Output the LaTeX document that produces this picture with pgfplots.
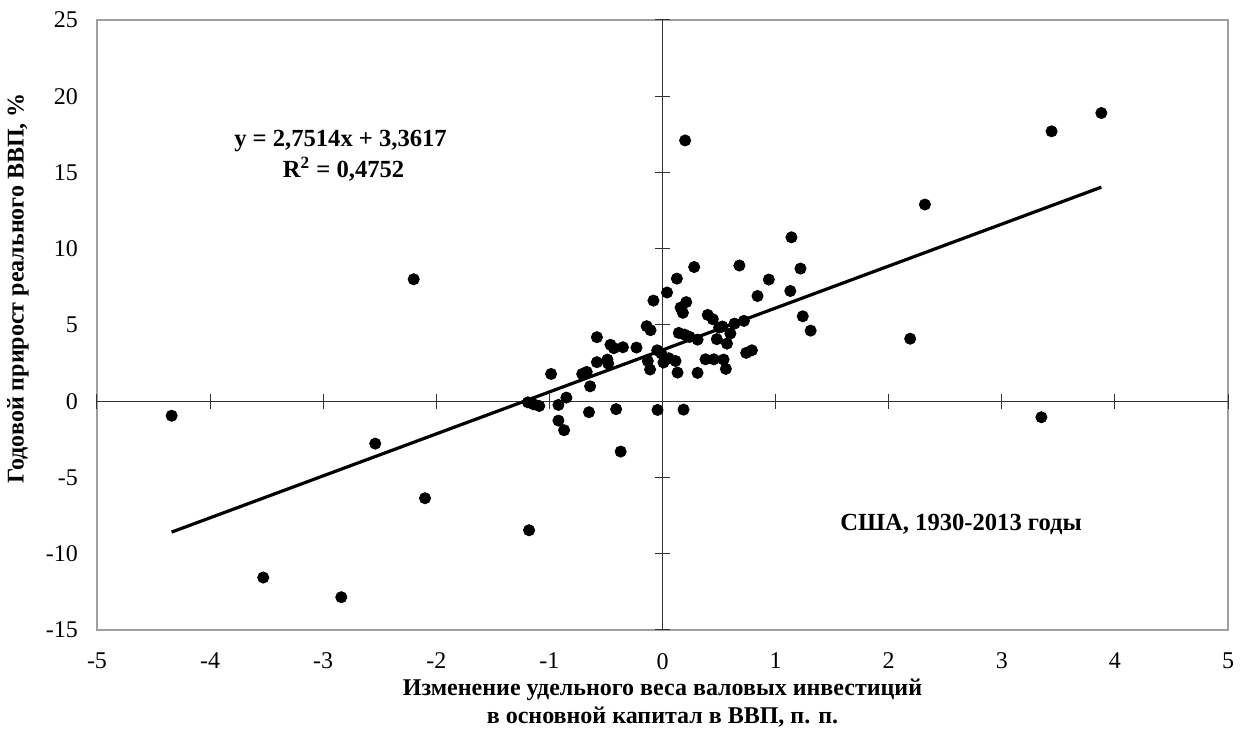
\documentclass[border=0pt]{standalone}
\usepackage{fontspec}
\setmainfont{Liberation Serif}
\usepackage{pgfplots}
\pgfplotsset{compat=1.18}
\begin{document}
\begin{tikzpicture}
\pgfplotsset{
  common/.style={
    scale only axis, width=565.5pt, height=305pt,
    xmin=-5, xmax=5, ymin=-15, ymax=25,
    xtick={-5,-4,...,5}, ytick={-15,-10,...,25},
  }
}
\begin{axis}[common, name=ax,
  axis line style={gray!75, line width=0.6pt},
  major tick length=0pt,
  tick label style={font=\fontsize{12}{14}\selectfont},
  /pgf/number format/assume math mode=true,
  xticklabel style={yshift=-8pt},
  yticklabel style={xshift=-6pt},
  xlabel={Изменение удельного веса валовых инвестиций\\в основной капитал в ВВП, п. п.},
  ylabel={Годовой прирост реального ВВП, \%},
  xlabel style={at={(axis description cs:0.5,-0.12)}, anchor=center, align=center, font=\fontsize{12}{14}\selectfont\bfseries},
  ylabel style={at={(axis description cs:-0.07,0.56)}, anchor=center, font=\fontsize{12}{14}\selectfont\bfseries},
]
\end{axis}
\begin{axis}[common,
  axis lines=middle,
  axis line style={-, black!80, line width=0.5pt},
  tick style={black!80, line width=0.5pt},
  tick align=center, major tick length=7.5pt,
  xticklabels={}, yticklabels={},
  clip=false,
]
\addplot[black, line width=1.6pt, no marks] coordinates {(-4.34,-8.5793) (3.88,14.0371)};
\addplot[only marks, mark=*, mark size=2.8pt, black] coordinates {
(-4.34,-0.95) (-3.53,-11.56) (-2.84,-12.85) (-2.54,-2.78) (-2.20,8.0) (-2.10,-6.36)
(-1.18,-8.46) (-1.19,-0.07) (-1.14,-0.2) (-1.09,-0.31) (-0.985,1.79) (-0.92,-0.24)
(-0.92,-1.27) (-0.87,-1.9) (-0.85,0.24) (-0.71,1.79) (-0.67,1.92) (-0.65,-0.72)
(-0.64,0.98) (-0.58,4.2) (-0.58,2.56) (-0.487,2.73) (-0.48,2.47) (-0.46,3.7)
(-0.43,3.48) (-0.41,-0.52) (-0.37,-3.3) (-0.35,3.54) (-0.23,3.52) (-0.14,4.92)
(-0.13,2.64) (-0.11,2.08) (-0.106,4.66) (-0.08,6.6) (-0.047,3.34) (-0.044,-0.57)
(-0.01,3.13) (0.009,2.54) (0.04,7.13) (0.056,2.82) (0.115,2.64) (0.127,8.04)
(0.133,1.88) (0.144,4.48) (0.16,6.14) (0.18,5.8) (0.186,-0.55) (0.195,4.37)
(0.20,17.1) (0.21,6.5) (0.24,4.22) (0.28,8.8) (0.31,4.04) (0.31,1.86)
(0.38,2.75) (0.40,5.66) (0.445,5.38) (0.454,2.75) (0.48,4.07) (0.50,4.83)
(0.53,4.9) (0.54,2.73) (0.56,2.12) (0.57,3.78) (0.60,4.44) (0.637,5.09)
(0.68,8.9) (0.72,5.27) (0.74,3.17) (0.79,3.34) (0.84,6.9) (0.94,7.98)
(1.13,7.23) (1.14,10.75) (1.22,8.7) (1.24,5.57) (1.31,4.63) (2.19,4.1)
(2.32,12.9) (3.35,-1.05) (3.44,17.7) (3.88,18.9)
};
\node[anchor=west, inner sep=0pt, font=\fontsize{12.3}{14}\selectfont\bfseries] at (axis cs:-3.79,17.05) {y = 2,7514x + 3,3617};
\node[anchor=west, inner sep=0pt, font=\fontsize{12.3}{14}\selectfont\bfseries] at (axis cs:-3.36,15.2) {R\textsuperscript{2} = 0,4752};
\node[anchor=center, font=\fontsize{12.3}{14}\selectfont\bfseries] at (axis cs:2.64,-8.1) {США, 1930-2013 годы};
\end{axis}
\path (ax.south west) ++(-48.5pt,-61.5pt) rectangle ([shift={(7.5pt,10pt)}]ax.north east);
\end{tikzpicture}
\end{document}
